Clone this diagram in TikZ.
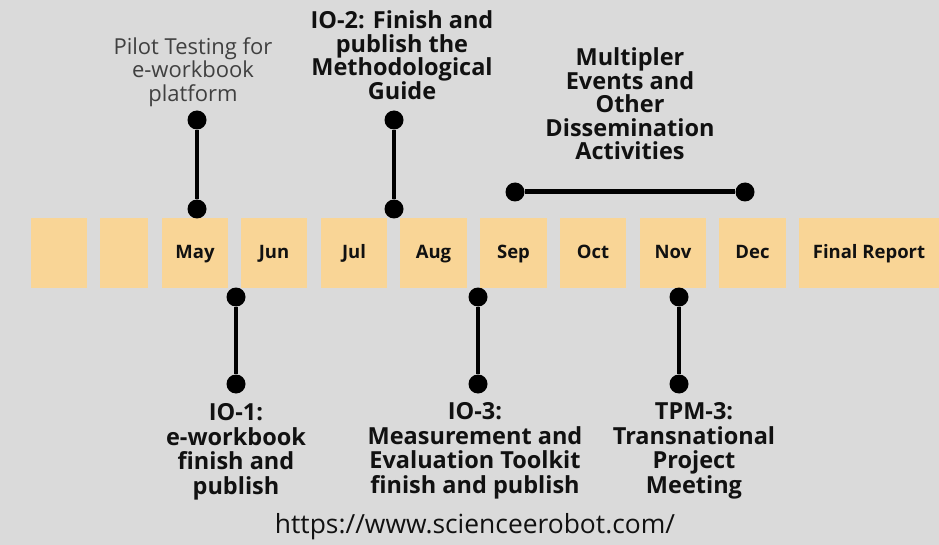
\documentclass[tikz,border=0pt]{standalone}
\usepackage{fontspec}
\setmainfont{Open Sans}
\definecolor{bg}{HTML}{DADADA}
\definecolor{boxc}{HTML}{F9D596}
\definecolor{txt}{HTML}{111111}
\definecolor{grey}{HTML}{404040}
\begin{document}
\begin{tikzpicture}[x=1pt,y=-1pt,
  month/.style={fill=boxc,draw=none,minimum height=70,inner sep=0,text height=13,text depth=2,font=\bfseries\fontsize{18.5}{22}\selectfont,text=txt},
  dot/.style={circle,fill=black,inner sep=0,minimum size=19},
  pin/.style={line width=4.5,black},
  lbl/.style={align=center,inner sep=0,font=\bfseries\fontsize{23.5}{23.5}\selectfont,text=txt},
  lblb/.style={align=center,inner sep=0,font=\bfseries\fontsize{23.5}{24.5}\selectfont,text=txt}]
\fill[bg] (0,0) rectangle (939,545);
\useasboundingbox (0,0) rectangle (939,545);
% month boxes
\node[month,minimum width=56] (b1) at (59,253) {};
\node[month,minimum width=48] (b2) at (124,253) {};
\node[month,minimum width=66] (may) at (195,253) {May};
\node[month,minimum width=66] (jun) at (274,253) {Jun};
\node[month,minimum width=66] (jul) at (354,253) {Jul};
\node[month,minimum width=67] (aug) at (433.5,253) {Aug};
\node[month,minimum width=67] (sep) at (513.5,253) {Sep};
\node[month,minimum width=66] (oct) at (593,253) {Oct};
\node[month,minimum width=66] (nov) at (673,253) {Nov};
\node[month,minimum width=67] (dec) at (752.5,253) {Dec};
\node[month,minimum width=140] (fin) at (869,253) {Final Report};
% top pins
\node[dot] (p1t) at (197,120) {};
\node[dot] (p1b) at (197,209) {};
\draw[pin] (p1t) -- (p1b);
\node[dot] (p2t) at (394,120) {};
\node[dot] (p2b) at (394,209) {};
\draw[pin] (p2t) -- (p2b);
\node[dot] (m1) at (515,192) {};
\node[dot] (m2) at (745,192) {};
\draw[line width=5] (m1) -- (m2);
% bottom pins
\node[dot] (q1t) at (236,297) {};
\node[dot] (q1b) at (236,384) {};
\draw[pin] (q1t) -- (q1b);
\node[dot] (q2t) at (478,297) {};
\node[dot] (q2b) at (478,384) {};
\draw[pin] (q2t) -- (q2b);
\node[dot] (q3t) at (679,297) {};
\node[dot] (q3b) at (679,384) {};
\draw[pin] (q3t) -- (q3b);
% labels
\node[align=center,inner sep=0,font=\fontsize{22}{23.5}\selectfont,text=grey] (pilot) at (193,72) {Pilot Testing for\\e-workbook\\platform};
\node[lbl] (io2) at (402,55) {IO-2: Finish and\\publish the\\Methodological\\Guide};
\node[lbl] (mult) at (630,104) {Multipler\\Events and\\Other\\Dissemination\\Activities};
\node[lblb] (io1) at (236,452) {IO-1:\\e-workbook\\finish and\\publish};
\node[lblb] (io3) at (475,451) {IO-3:\\Measurement and\\Evaluation Toolkit\\finish and publish};
\node[lblb] (tpm) at (694,451) {TPM-3:\\Transnational\\Project\\Meeting};
\node[inner sep=0,font=\fontsize{26.4}{30}\selectfont,text=txt] (url) at (475,527) {https://www.scienceerobot.com/};
\end{tikzpicture}
\end{document}
